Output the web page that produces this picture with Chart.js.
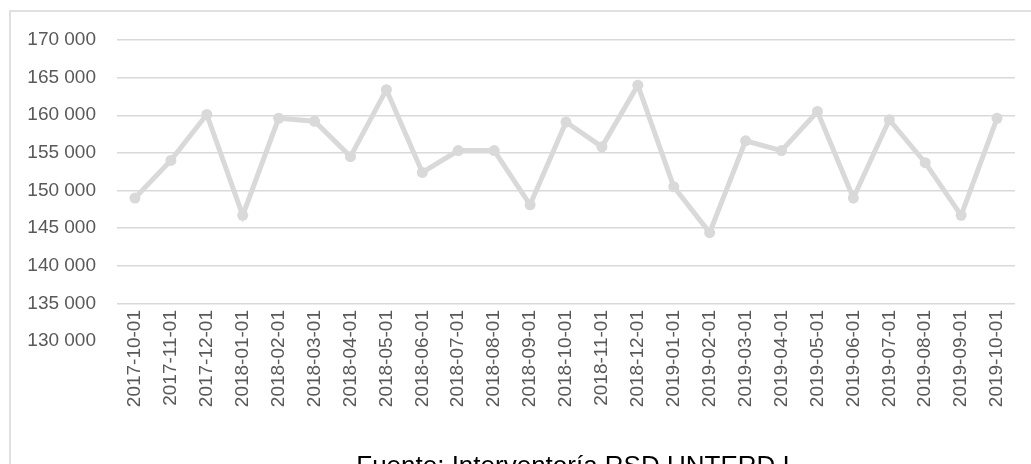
<!DOCTYPE html>
<html>
<head>
<meta charset="utf-8">
<script src="https://cdn.jsdelivr.net/npm/chart.js@4.4.1/dist/chart.umd.min.js"></script>
<style>
  html, body { margin: 0; padding: 0; background: #ffffff; overflow: hidden; }
  #wrap { position: relative; width: 1031px; height: 464px; overflow: hidden; background: #ffffff; }
  #frame { position: absolute; left: 9px; top: 10px; width: 1200px; height: 600px; border: 2px solid #e0e0e0; box-sizing: border-box; }
  #c { position: absolute; left: 0; top: 0; }
  #source { position: absolute; left: 0; top: 452px; width: 1146px; text-align: center; font-family: "Liberation Sans", Arial, sans-serif; font-size: 26px; line-height: 26px; color: #000000; white-space: nowrap; }
</style>
</head>
<body>
<div id="wrap">
  <div id="frame"></div>
  <canvas id="c" width="1031" height="464"></canvas>
  <div id="source">Fuente: Interventoría RSD UNTERD I</div>
</div>
<script>
const categories = [
  '2017-10-01','2017-11-01','2017-12-01','2018-01-01','2018-02-01','2018-03-01',
  '2018-04-01','2018-05-01','2018-06-01','2018-07-01','2018-08-01','2018-09-01',
  '2018-10-01','2018-11-01','2018-12-01','2019-01-01','2019-02-01','2019-03-01',
  '2019-04-01','2019-05-01','2019-06-01','2019-07-01','2019-08-01','2019-09-01',
  '2019-10-01'
];
const values = [
  149000, 154000, 160100, 146700, 159600, 159200,
  154500, 163400, 152400, 155300, 155300, 148100,
  159100, 155800, 164000, 150500, 144400, 156600,
  155300, 160500, 149000, 159400, 153700, 146700,
  159600
];
const yMin = 130000;
const yMax = 170000;
const yStep = 5000;

function fmt(v) {
  return Math.round(v).toString().replace(/\B(?=(\d{3})+(?!\d))/g, ' ');
}

const gray = '#d9d9d9';
const tickColor = '#595959';
const font = { family: '"Liberation Sans", Arial, sans-serif', size: 19 };

// allow the rotated category labels to rise into the plot band (as in the reference)
const unclipLabels = {
  id: 'unclipLabels',
  beforeDraw(chart) {
    const sx = chart.scales.x;
    sx._computeLabelArea = () => ({ top: 0, left: 0, bottom: chart.height, right: chart.width });
  }
};

new Chart(document.getElementById('c'), {
  type: 'line',
  data: {
    labels: categories,
    datasets: [{
      data: values,
      borderColor: gray,
      backgroundColor: gray,
      borderWidth: 5,
      pointRadius: 5.5,
      pointBackgroundColor: gray,
      pointBorderWidth: 0,
      tension: 0,
      fill: false
    }]
  },
  options: {
    responsive: false,
    animation: false,
    devicePixelRatio: 1,
    layout: { padding: { left: 27, right: 16, top: 40, bottom: 56 } },
    plugins: {
      legend: { display: false },
      tooltip: { enabled: false },
      title: { display: false }
    },
    scales: {
      x: {
        offset: true,
        grid: { display: false, drawTicks: false },
        border: { display: false },
        ticks: {
          autoSkip: false,
          maxRotation: 90,
          minRotation: 90,
          padding: -31,
          color: tickColor,
          font: font
        },
        afterFit: (s) => { s.height = 67; }
      },
      y: {
        min: yMin,
        max: yMax,
        grid: {
          drawTicks: false,
          lineWidth: 1.5,
          color: (ctx) => (ctx.tick && ctx.tick.value === yMin) ? 'rgba(0,0,0,0)' : gray
        },
        border: { display: false },
        ticks: {
          stepSize: yStep,
          padding: 21,
          color: tickColor,
          font: font,
          callback: (v) => fmt(v)
        },
        afterFit: (s) => { s.width = 90; }
      }
    }
  },
  plugins: [unclipLabels]
});
</script>
</body>
</html>
